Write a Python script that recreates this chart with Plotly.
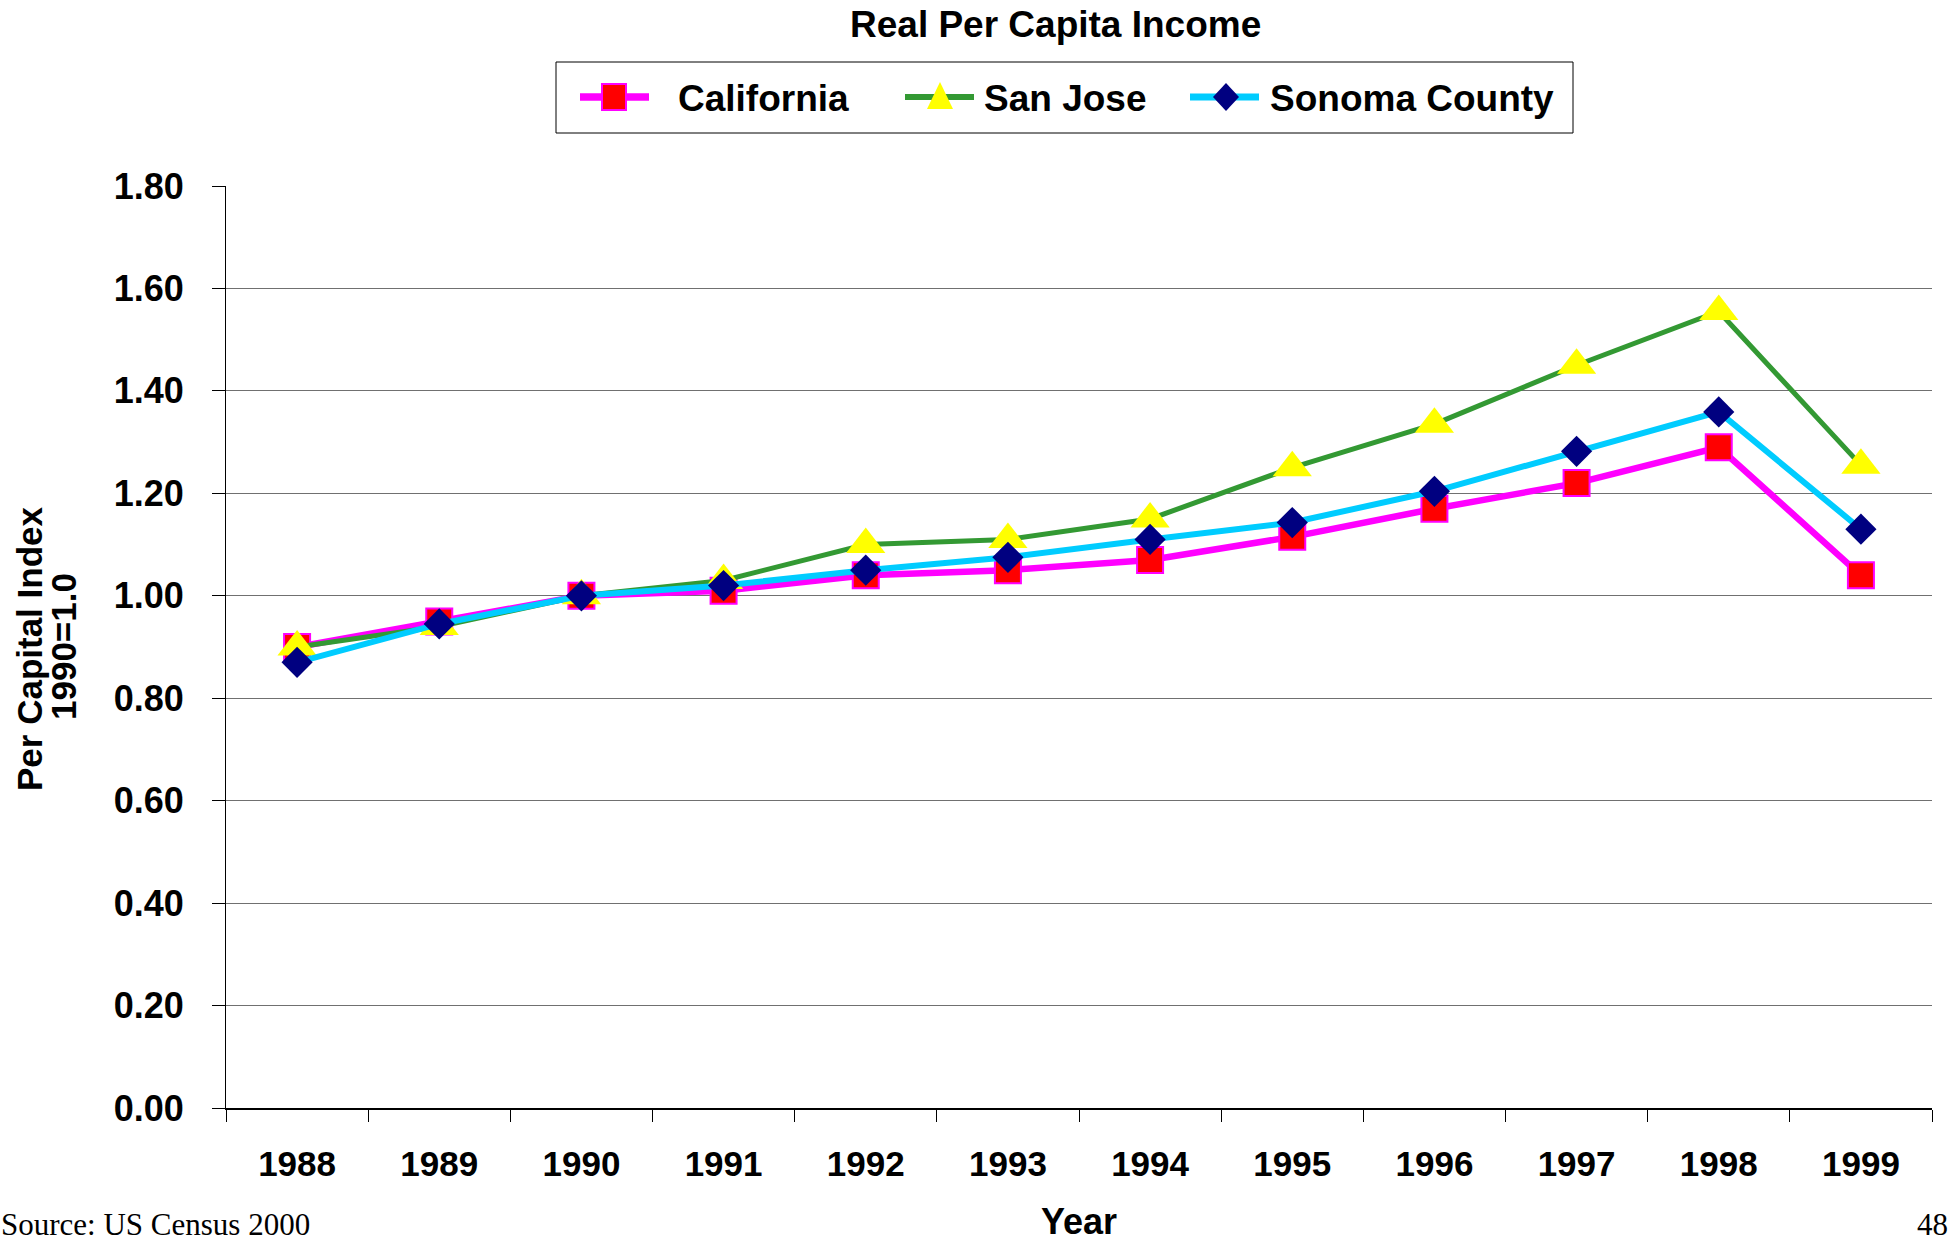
import plotly.graph_objects as go

# Real per capita income index (1990 = 1.0)
years = ["1988", "1989", "1990", "1991", "1992", "1993",
         "1994", "1995", "1996", "1997", "1998", "1999"]
california = [0.90, 0.95, 1.00, 1.01, 1.04, 1.05, 1.07, 1.115, 1.17, 1.22, 1.29, 1.04]
san_jose = [0.90, 0.94, 1.00, 1.03, 1.10, 1.11, 1.15, 1.25, 1.335, 1.45, 1.555, 1.255]
sonoma = [0.87, 0.945, 1.00, 1.02, 1.05, 1.075, 1.11, 1.143, 1.204, 1.282, 1.359, 1.13]
y_ticks = [0.0, 0.2, 0.4, 0.6, 0.8, 1.0, 1.2, 1.4, 1.6, 1.8]
series_names = ["California", "San Jose", "Sonoma County"]

FONT = "Liberation Sans, Arial, sans-serif"
SERIF = "Liberation Serif, Times New Roman, serif"

W, H = 1949, 1243
ML, MR, MT, MB = 226, 17, 186, 135
PW, PH = W - ML - MR, H - MT - MB


def px_x(x):
    """Page pixel column -> paper x."""
    return (x - ML) / PW


def px_y(y):
    """Page pixel row (from top) -> paper y."""
    return (H - MB - y) / PH


styles = [
    dict(line="#FF00FF", lw=6.5, fill="#FF0000", edge="#FF00FF"),
    dict(line="#339933", lw=5, fill="#FFFF00", edge=None),
    dict(line="#00CCFF", lw=6, fill="#000080", edge=None),
]

fig = go.Figure()
fig.add_trace(go.Scatter(
    x=years, y=california, name=series_names[0], mode="lines+markers",
    showlegend=False,
    line=dict(color=styles[0]["line"], width=styles[0]["lw"]),
    marker=dict(symbol="square", size=26, color=styles[0]["fill"],
                line=dict(color=styles[0]["edge"], width=2)),
))
fig.add_trace(go.Scatter(
    x=years, y=san_jose, name=series_names[1], mode="lines+markers",
    showlegend=False,
    line=dict(color=styles[1]["line"], width=styles[1]["lw"]),
    marker=dict(symbol="triangle-up", size=34, color=styles[1]["fill"],
                line=dict(width=0)),
))
fig.add_trace(go.Scatter(
    x=years, y=sonoma, name=series_names[2], mode="lines+markers",
    showlegend=False,
    line=dict(color=styles[2]["line"], width=styles[2]["lw"]),
    marker=dict(symbol="diamond", size=24, color=styles[2]["fill"],
                line=dict(width=0)),
))

# ---- legend box drawn with shapes (large sample markers) ----
shapes = [dict(type="rect", xref="paper", yref="paper",
               x0=px_x(556), x1=px_x(1573), y0=px_y(133), y1=px_y(62),
               line=dict(color="black", width=1), fillcolor="white",
               layer="below")]
legend_y = px_y(97)
line_spans = [(580, 649), (905, 974), (1190, 1259)]
marker_x = [614, 940, 1226]
text_x = [676, 982, 1268]
marker_paths = [
    "M-12,-13 L12,-13 L12,13 L-12,13 Z",
    "M-13,-12 L13,-12 L0,15 Z",
    "M0,-14 L13,0 L0,14 L-13,0 Z",
]
annotations = []
for i, name in enumerate(series_names):
    st = styles[i]
    shapes.append(dict(type="line", xref="paper", yref="paper",
                       x0=px_x(line_spans[i][0]), x1=px_x(line_spans[i][1]),
                       y0=legend_y, y1=legend_y,
                       line=dict(color=st["line"], width=st["lw"] + 1)))
    shapes.append(dict(type="path", xref="paper", yref="paper",
                       xsizemode="pixel", ysizemode="pixel",
                       xanchor=px_x(marker_x[i]), yanchor=legend_y,
                       path=marker_paths[i], fillcolor=st["fill"],
                       line=dict(color=st["edge"] or st["fill"],
                                 width=2 if st["edge"] else 0)))
    annotations.append(dict(text=name, xref="paper", yref="paper",
                            x=px_x(text_x[i]), y=px_y(99),
                            xanchor="left", yanchor="middle", showarrow=False,
                            font=dict(family=FONT, size=37, weight="bold",
                                      color="black")))

annotations += [
    dict(text="Real Per Capita Income", xref="paper", yref="paper",
         x=px_x(1055), y=px_y(24), xanchor="center", yanchor="middle",
         showarrow=False,
         font=dict(family=FONT, size=37, weight="bold", color="black")),
    dict(text="Year", xref="paper", yref="paper",
         x=0.5, y=px_y(H), xanchor="center", yanchor="bottom",
         showarrow=False, borderpad=0,
         font=dict(family=FONT, size=36, weight="bold", color="black")),
    dict(text="Per Capital Index", xref="paper", yref="paper",
         x=px_x(29), y=px_y(649), xanchor="center", yanchor="middle",
         textangle=-90, showarrow=False,
         font=dict(family=FONT, size=35, weight="bold", color="black")),
    dict(text="1990=1.0", xref="paper", yref="paper",
         x=px_x(63), y=px_y(647), xanchor="center", yanchor="middle",
         textangle=-90, showarrow=False,
         font=dict(family=FONT, size=35, weight="bold", color="black")),
    dict(text="Source: US Census 2000", xref="paper", yref="paper",
         x=px_x(0), y=px_y(H), xanchor="left", yanchor="bottom",
         showarrow=False, borderpad=0,
         font=dict(family=SERIF, size=31, color="black")),
    dict(text="48", xref="paper", yref="paper",
         x=px_x(W), y=px_y(H), xanchor="right", yanchor="bottom",
         showarrow=False, borderpad=0,
         font=dict(family=SERIF, size=31, color="black")),
]

fig.update_layout(
    width=W, height=H,
    margin=dict(l=ML, r=MR, t=MT, b=MB),
    paper_bgcolor="white", plot_bgcolor="white",
    font=dict(family=FONT, color="black"),
    showlegend=False,
    xaxis=dict(
        type="category", range=[-0.5, 11.5],
        showline=True, linecolor="black", linewidth=2,
        ticks="outside", tickson="boundaries", ticklen=12,
        tickcolor="black", tickwidth=1,
        showgrid=False, zeroline=False,
        tickfont=dict(family=FONT, size=35, weight="bold", color="black"),
        ticklabelstandoff=24,
    ),
    yaxis=dict(
        range=[0, 1.8], tickvals=y_ticks,
        ticktext=[f"{v:.2f}" for v in y_ticks],
        showline=True, linecolor="black", linewidth=1,
        ticks="outside", ticklen=13, tickcolor="black", tickwidth=1,
        showgrid=True, gridcolor="#707070", gridwidth=1,
        zeroline=False,
        tickfont=dict(family=FONT, size=36, weight="bold", color="black"),
        ticklabelstandoff=21,
    ),
    shapes=shapes,
    annotations=annotations,
)

fig.write_html("out.html")
